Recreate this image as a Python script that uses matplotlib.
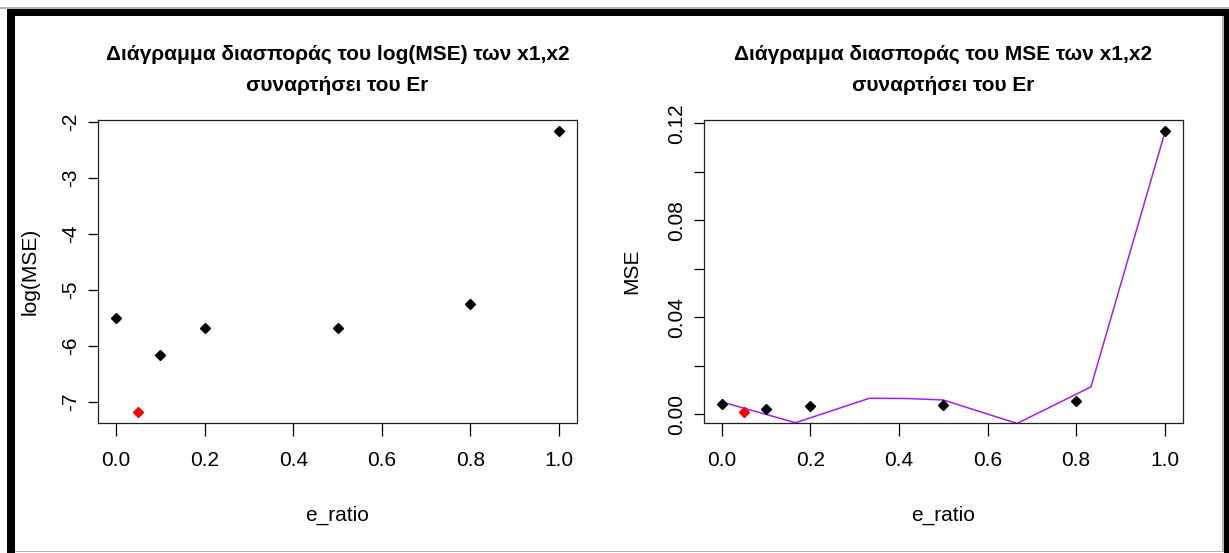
import matplotlib.pyplot as plt
from matplotlib.patches import Rectangle

plt.rcParams['font.family'] = ['Liberation Sans Narrow', 'Liberation Sans', 'DejaVu Sans']

e_ratio = [0.0, 0.05, 0.1, 0.2, 0.5, 0.8, 1.0]
log_mse = [-5.51, -7.18, -6.16, -5.68, -5.68, -5.26, -2.17]
mse = [0.0043, 0.0009, 0.0022, 0.0036, 0.0037, 0.0054, 0.1168]
best = 1  # the point drawn in red

fit_x = [0, 1 / 6, 1 / 3, 5 / 12, 1 / 2, 2 / 3, 5 / 6, 1]
fit_y = [0.0051, -0.0035, 0.0066, 0.0065, 0.0059, -0.0038, 0.0113, 0.1162]

W, H = 1229, 553


def r_lim(v):
    lo, hi = min(v), max(v)
    pad = 0.04 * (hi - lo)
    return lo - pad, hi + pad


def px_rect(fig, x0, y0, x1, y1, color):
    fig.add_artist(Rectangle((x0 / W, 1 - y1 / H), (x1 - x0) / W, (y1 - y0) / H,
                             transform=fig.transFigure, color=color, lw=0))


def plot_setup(fig, left, title, ylabel, ylab_x):
    ax = fig.add_axes([left / W, 1 - 423.3 / H, 478.5 / W, 303.3 / H])
    for s in ax.spines.values():
        s.set_linewidth(0.9)
        s.set_color('#222222')
    ax.set_xlim(r_lim(e_ratio))
    ax.set_xticks([0.0, 0.2, 0.4, 0.6, 0.8, 1.0])
    ax.set_xticklabels(['0.0', '0.2', '0.4', '0.6', '0.8', '1.0'])
    ax.tick_params(axis='x', length=9, width=0.9, pad=11, labelsize=15)
    ax.tick_params(axis='y', length=7, width=0.9, pad=6, labelsize=15)
    ax.text(0.5, 1.166, title, transform=ax.transAxes, ha='center', va='center',
            fontsize=15, fontweight='bold', linespacing=1.8)
    ax.text(0.5, -0.302, 'e_ratio', transform=ax.transAxes, ha='center', va='center',
            fontsize=15)
    ax.text(ylab_x, 0.5, ylabel, transform=ax.transAxes, ha='center', va='center',
            rotation=90, fontsize=15)
    return ax


def draw_points(ax, y):
    for i, (x, v) in enumerate(zip(e_ratio, y)):
        ax.plot(x, v, marker='D', markersize=5.3, color='red' if i == best else 'black',
                linestyle='none', zorder=3)


fig = plt.figure(figsize=(W / 100, H / 100), dpi=100)

# left: log(MSE)
ax1 = plot_setup(fig, 98.3,
                 'Διάγραμμα διασποράς του log(MSE) των x1,x2\nσυναρτήσει του Er',
                 'log(MSE)', -0.1427)
ax1.set_ylim(r_lim(log_mse))
ax1.set_yticks([-7, -6, -5, -4, -3, -2])
ax1.set_yticklabels(['-7', '-6', '-5', '-4', '-3', '-2'], rotation=90, va='center')
draw_points(ax1, log_mse)

# right: MSE with the fitted curve
ax2 = plot_setup(fig, 704,
                 'Διάγραμμα διασποράς του MSE των x1,x2\nσυναρτήσει του Er',
                 'MSE', -0.1506)
ax2.set_ylim(r_lim(mse))
ax2.set_yticks([0.0, 0.02, 0.04, 0.06, 0.08, 0.10, 0.12])
ax2.set_yticklabels(['0.00', '', '0.04', '', '0.08', '', '0.12'], rotation=90, va='center')
ax2.plot(fit_x, fit_y, color='#A020F0', lw=1.1, zorder=2)
draw_points(ax2, mse)

# screenshot frame
px_rect(fig, 0, 7, W, 8.5, '#b4b4b4')
px_rect(fig, 7, 9, W, 16, 'black')
px_rect(fig, 7, 9, 15, H, 'black')
px_rect(fig, 1224, 9, W, H, 'black')
px_rect(fig, 1222, 16, 1223.5, 551, '#b4b4b4')
px_rect(fig, 15, 550.5, 1224, 552, '#b4b4b4')

fig.savefig('out.png', dpi=100)
